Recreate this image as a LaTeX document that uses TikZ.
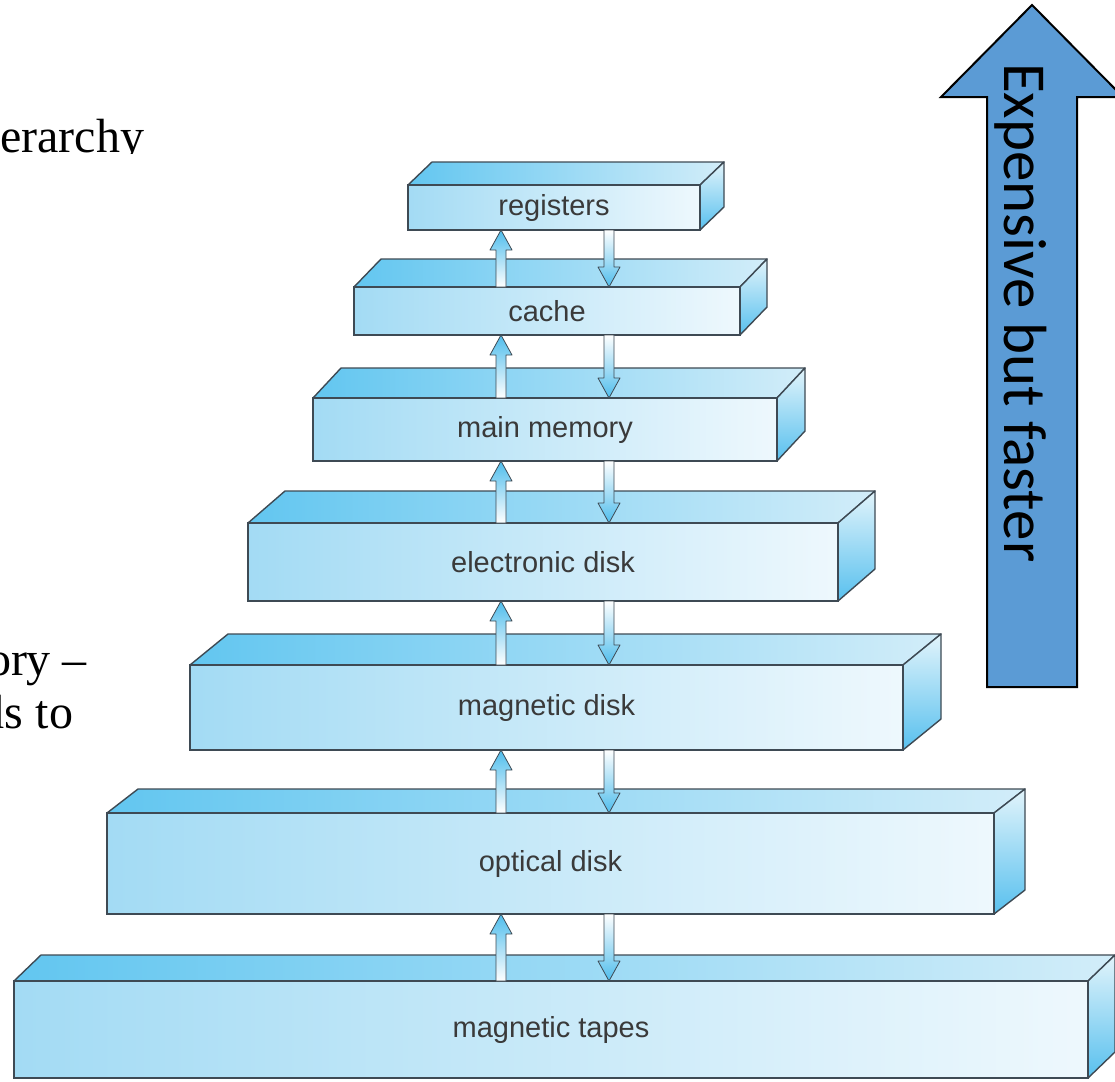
\documentclass[tikz,border=0pt]{standalone}
\usepackage{fontspec}
\setmainfont{Liberation Serif}
\newfontfamily\labelfont{Liberation Sans}
\newfontfamily\arrowfont{Carlito}
\usetikzlibrary{calc}
\definecolor{frontL}{HTML}{A3DBF4}
\definecolor{frontR}{HTML}{EEF8FD}
\definecolor{topL}{HTML}{62C6F0}
\definecolor{topR}{HTML}{D2EDF9}
\definecolor{sideT}{HTML}{E2F4FB}
\definecolor{sideB}{HTML}{58C0EE}
\definecolor{edge}{HTML}{3E4A54}
\definecolor{labeltext}{HTML}{3A3A3A}
\definecolor{arrC}{HTML}{4FBDEC}
\definecolor{bigblue}{HTML}{5B9BD5}
\tikzset{
  frontface/.style={draw=edge, line width=1.4pt, left color=frontL, right color=frontR,
    inner sep=0pt, outer sep=0pt, anchor=north west,
    font=\labelfont\fontsize{29}{34}\selectfont, text=labeltext},
  topface/.style={draw=edge, line width=1.4pt, left color=topL, right color=topR, line join=round},
  sideface/.style={draw=edge, line width=1.4pt, top color=sideT, bottom color=sideB, line join=round},
  uparr/.style={draw=edge, line width=0.8pt, top color=arrC, bottom color=white, line join=round},
  downarr/.style={draw=edge, line width=0.8pt, top color=white, bottom color=arrC, line join=round},
  bigarrow/.style={draw=black, line width=2pt, fill=bigblue, line join=miter},
  slidetext/.style={font=\fontsize{48}{57}\selectfont, inner sep=0pt, outer sep=0pt},
}
% #1 name, #2 x1, #3 x2, #4 ytop, #5 ybottom, #6 dx, #7 dy, #8 label
\newcommand\levelbox[8]{%
  \path[topface] (#2,#4) -- ({#2+#6},{#4-#7}) -- ({#3+#6},{#4-#7}) -- (#3,#4) -- cycle;
  \path[sideface] (#3,#4) -- ({#3+#6},{#4-#7}) -- ({#3+#6},{#5-#7}) -- (#3,#5) -- cycle;
  \node[frontface, minimum width={#3-#2}, minimum height={#5-#4}] (#1) at (#2,#4) {#8};
}
% #1 lower node, #2 upper node
\newcommand\pairarrows[2]{%
  \coordinate (ut) at (ux |- #2.south);
  \coordinate (ub) at (ux |- #1.north);
  \path[uparr] (ut) -- ($(ut)+(11,20)$) -- ($(ut)+(5,20)$) -- ($(ub)+(5,0)$)
     -- ($(ub)+(-5,0)$) -- ($(ut)+(-5,20)$) -- ($(ut)+(-11,20)$) -- cycle;
  \coordinate (dt) at (dx |- #2.south);
  \coordinate (db) at (dx |- #1.north);
  \path[downarr] (db) -- ($(db)+(11,-20)$) -- ($(db)+(5,-20)$) -- ($(dt)+(5,0)$)
     -- ($(dt)+(-5,0)$) -- ($(db)+(-5,-20)$) -- ($(db)+(-11,-20)$) -- cycle;
}
\begin{document}
\begin{tikzpicture}[x=1pt,y=-1pt]
\useasboundingbox (0,0) rectangle (1115,1081);
\fill[white] (0,0) rectangle (1115,1081);
% slide text fragments (clipped as in the reference)
\begin{scope}
  \clip (0,0) rectangle (400,153);
  \node[slidetext, anchor=base east] (t1) at (144,152) {erarchy};
\end{scope}
\begin{scope}
  \clip (0,600) rectangle (180,760);
  \node[slidetext, anchor=base east] (t2) at (87,675) {ory –};
  \node[slidetext, anchor=base east] (t3) at (73,728) {ds to};
\end{scope}
% boxes
\levelbox{tapes}{14}{1088}{981}{1078}{27}{26}{magnetic tapes}
\levelbox{optical}{107}{994}{813}{914}{31}{24}{optical disk}
\levelbox{magdisk}{190}{903}{665}{750}{38}{31}{magnetic disk}
\levelbox{edisk}{248}{838}{523}{601}{37}{32}{electronic disk}
\levelbox{mainmem}{313}{777}{398}{461}{28}{30}{main memory}
\levelbox{cache}{354}{740}{287}{335}{27}{28}{cache}
\levelbox{regs}{408}{700}{185}{230}{24}{23}{registers}
% arrows
\coordinate (ux) at (501,0);
\coordinate (dx) at (609,0);
\pairarrows{cache}{regs}
\pairarrows{mainmem}{cache}
\pairarrows{edisk}{mainmem}
\pairarrows{magdisk}{edisk}
\pairarrows{optical}{magdisk}
\pairarrows{tapes}{optical}
% big arrow
\path[bigarrow] (1032,5) -- (941,97) -- (987,97) -- (987,687) -- (1077,687) -- (1077,97) -- (1123,97) -- cycle;
\node[font=\arrowfont\fontsize{61}{66}\selectfont, rotate=-90, anchor=base west, inner sep=0pt] (exp) at (1004,63) {Expensive but faster};
\end{tikzpicture}
\end{document}
